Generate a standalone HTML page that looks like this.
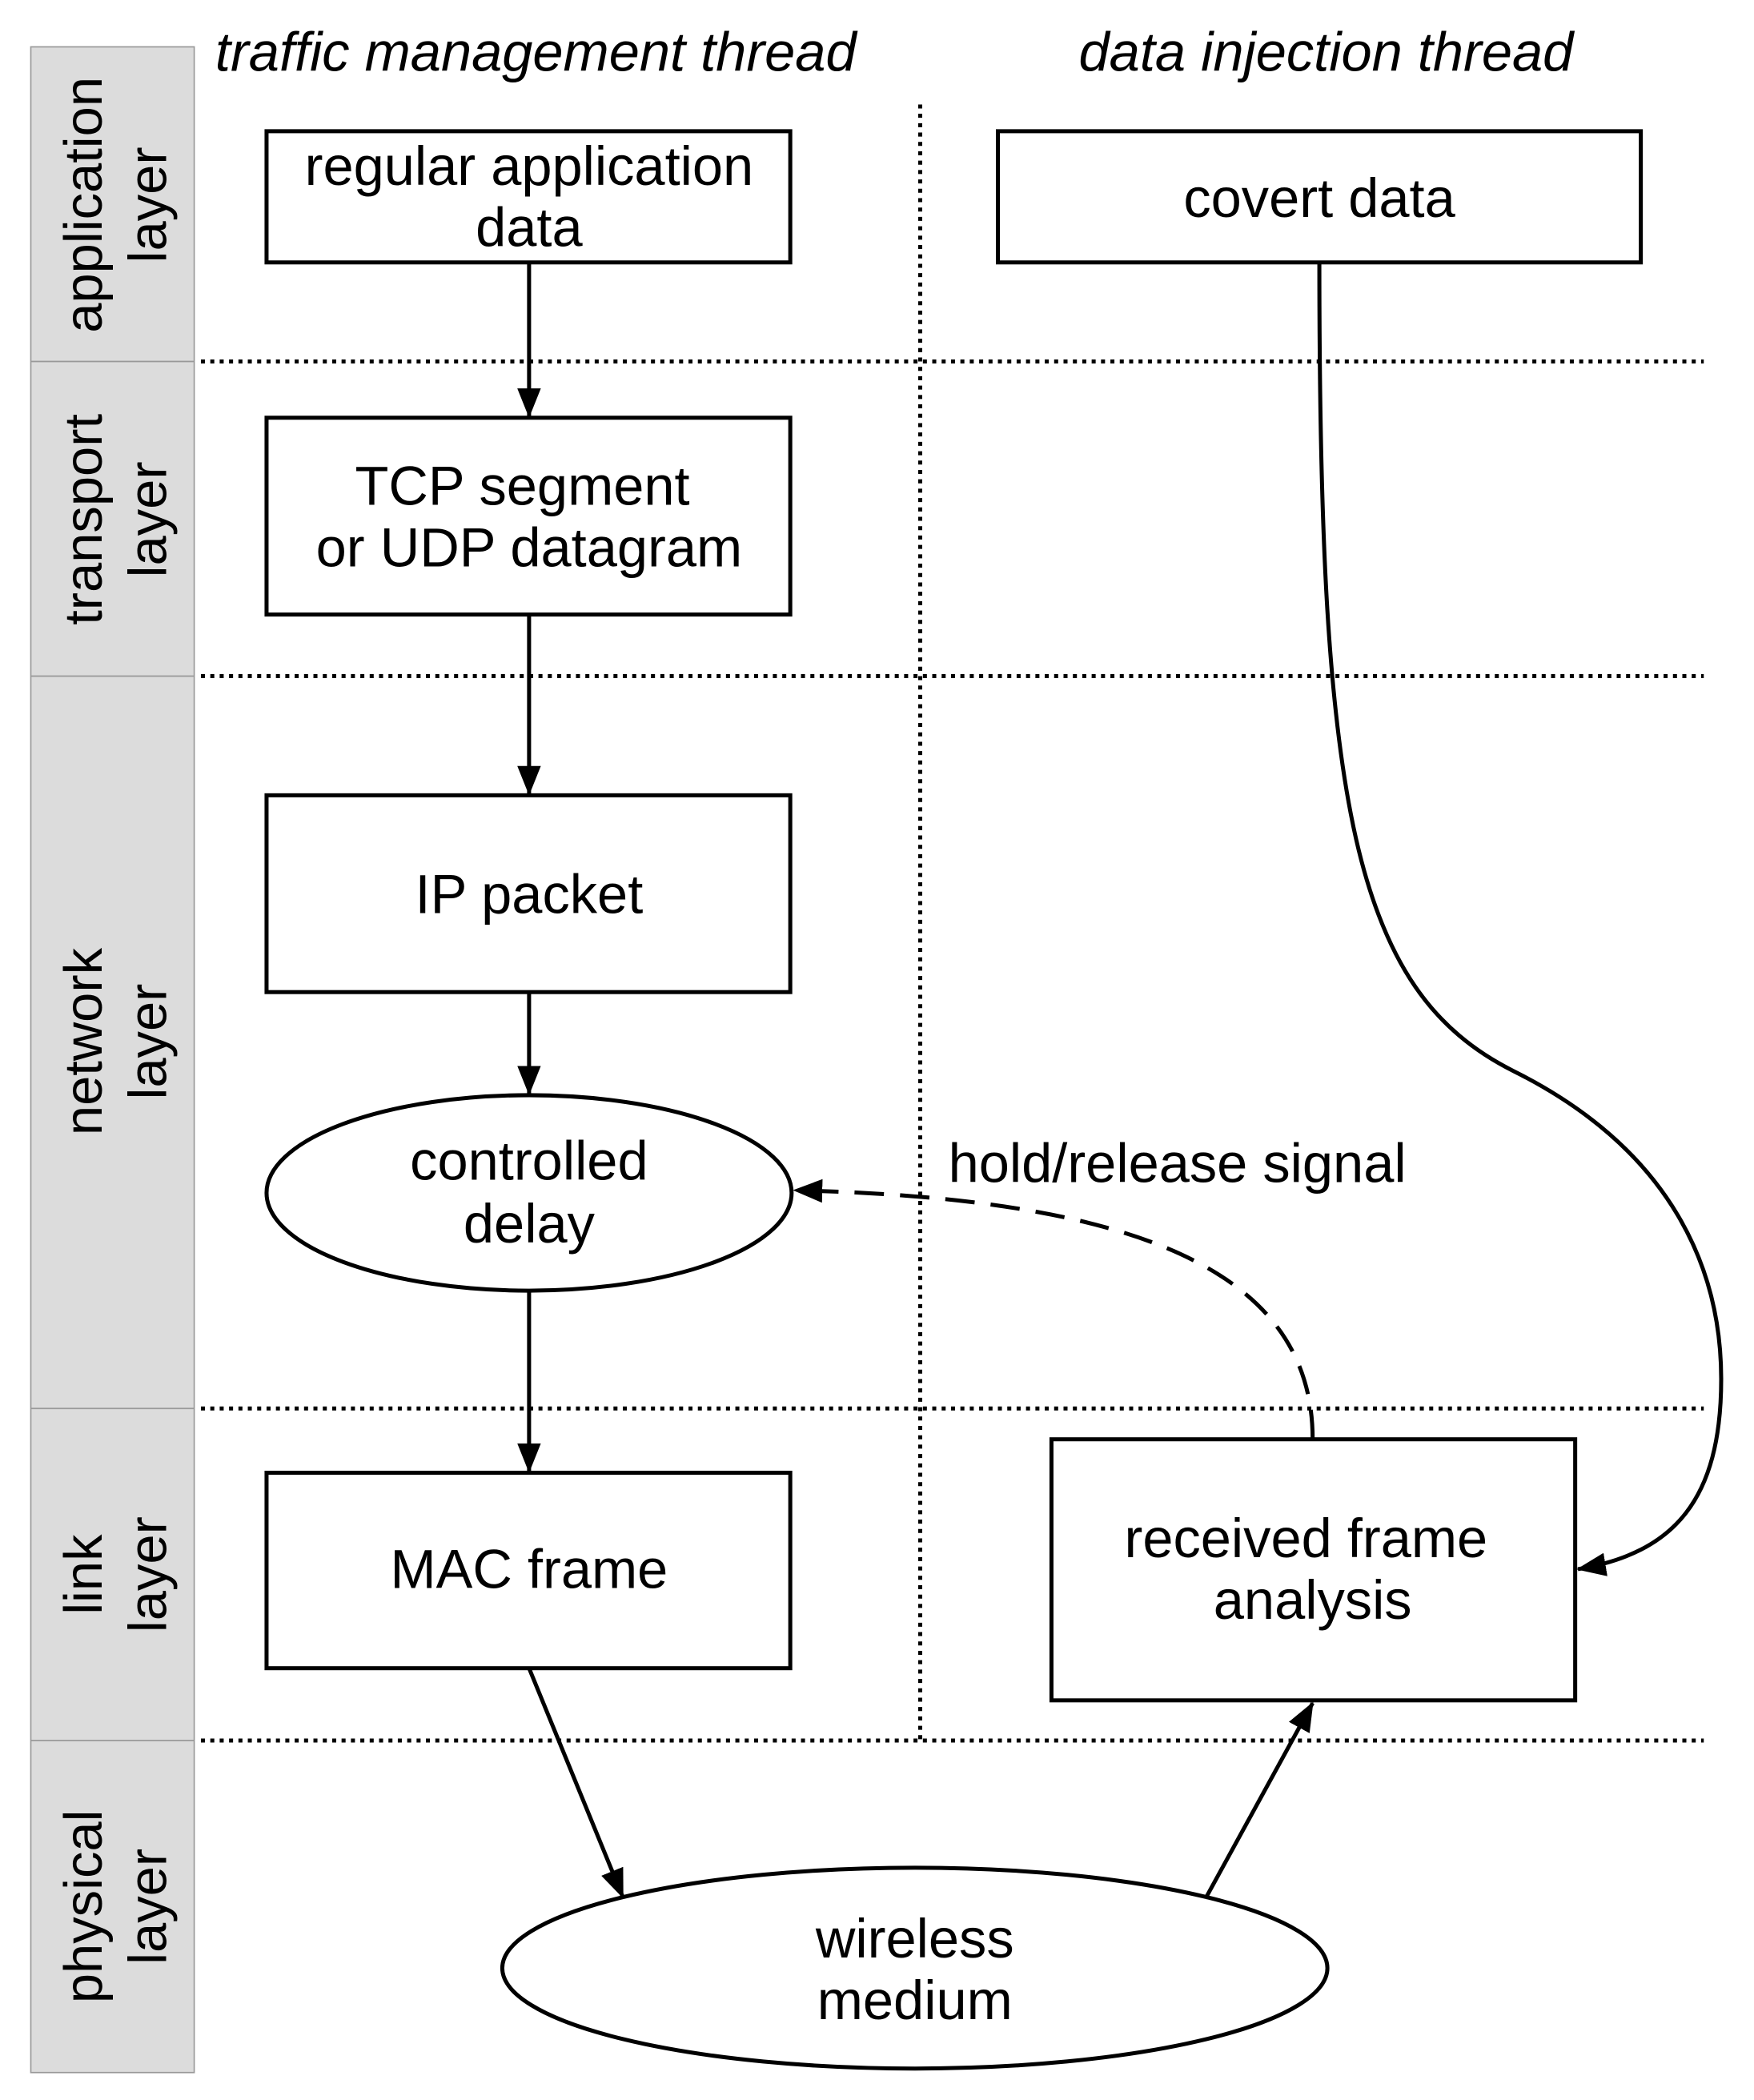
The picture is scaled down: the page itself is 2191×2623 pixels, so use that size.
<!DOCTYPE html>
<html><head><meta charset="utf-8"><style>
html,body{margin:0;padding:0;background:#fff;}
svg{display:block;}
text{font-family:"Liberation Sans",sans-serif;fill:#000;}
</style></head><body>
<svg width="2191" height="2623" viewBox="0 0 1309.5 1568.5" preserveAspectRatio="none" xmlns="http://www.w3.org/2000/svg">
<defs>
<marker id="a" viewBox="0 0 20 20" refX="19" refY="10" markerWidth="22" markerHeight="22" markerUnits="userSpaceOnUse" orient="auto">
<path d="M0,2 L20,10 L0,18 Z" fill="#000"/>
</marker>
</defs>
<rect x="23" y="35" width="122" height="1513" fill="#dcdcdc" stroke="#999" stroke-width="1"/>
<g stroke="#999" stroke-width="1">
<line x1="23" y1="270" x2="145" y2="270"/>
<line x1="23" y1="505" x2="145" y2="505"/>
<line x1="23" y1="1052" x2="145" y2="1052"/>
<line x1="23" y1="1300" x2="145" y2="1300"/>
</g>
<g font-size="40" text-anchor="middle">
<text transform="translate(84,153) rotate(-90)"><tspan x="0" y="-8">application</tspan><tspan x="0" y="40">layer</tspan></text>
<text transform="translate(84,388) rotate(-90)"><tspan x="0" y="-8">transport</tspan><tspan x="0" y="40">layer</tspan></text>
<text transform="translate(84,778) rotate(-90)"><tspan x="0" y="-8">network</tspan><tspan x="0" y="40">layer</tspan></text>
<text transform="translate(84,1176) rotate(-90)"><tspan x="0" y="-8">link</tspan><tspan x="0" y="40">layer</tspan></text>
<text transform="translate(84,1424) rotate(-90)"><tspan x="0" y="-8">physical</tspan><tspan x="0" y="40">layer</tspan></text>
</g>
<g stroke="#000" stroke-width="3" stroke-dasharray="3,4">
<line x1="150" y1="270" x2="1272" y2="270"/>
<line x1="150" y1="505" x2="1272" y2="505"/>
<line x1="150" y1="1052" x2="1272" y2="1052"/>
<line x1="150" y1="1300" x2="1272" y2="1300"/>
<line x1="687" y1="78" x2="687" y2="1300"/>
</g>
<g font-size="41" font-style="italic" text-anchor="middle">
<text x="400" y="53">traffic management thread</text>
<text x="990" y="53">data injection thread</text>
</g>
<g fill="#fff" stroke="#000" stroke-width="3">
<rect x="199" y="98" width="391" height="98"/>
<rect x="745" y="98" width="480" height="98"/>
<rect x="199" y="312" width="391" height="147"/>
<rect x="199" y="594" width="391" height="147"/>
<ellipse cx="395" cy="891" rx="196" ry="73"/>
<rect x="199" y="1100" width="391" height="146"/>
<rect x="785" y="1075" width="391" height="195"/>
<ellipse cx="683" cy="1470" rx="308" ry="75"/>
</g>
<g font-size="41" text-anchor="middle">
<text x="395" y="138">regular application</text><text x="395" y="184">data</text>
<text x="985" y="162">covert data</text>
<text x="390" y="377">TCP segment</text><text x="395" y="423">or UDP datagram</text>
<text x="395" y="682">IP packet</text>
<text x="395" y="881">controlled</text><text x="395" y="928">delay</text>
<text x="395" y="1186">MAC frame</text>
<text x="975" y="1163">received frame</text><text x="980" y="1209">analysis</text>
<text x="683" y="1462">wireless</text><text x="683" y="1508">medium</text>
<text x="708" y="883" text-anchor="start">hold/release signal</text>
</g>
<g stroke="#000" stroke-width="3" fill="none" marker-end="url(#a)">
<line x1="395" y1="196" x2="395" y2="311"/>
<line x1="395" y1="459" x2="395" y2="593"/>
<line x1="395" y1="741" x2="395" y2="817"/>
<line x1="395" y1="964" x2="395" y2="1099"/>
<line x1="395" y1="1246" x2="465" y2="1417"/>
<line x1="900" y1="1418" x2="980" y2="1272"/>
<path d="M985,196 C985,600 1010,740 1130,800 C1250,860 1285,950 1285,1030 C1285,1120 1250,1160 1178,1172"/>
<path d="M980,1075 C980,950 850,895 593,889" stroke-dasharray="22,12"/>
</g>
</svg>
</body></html>
